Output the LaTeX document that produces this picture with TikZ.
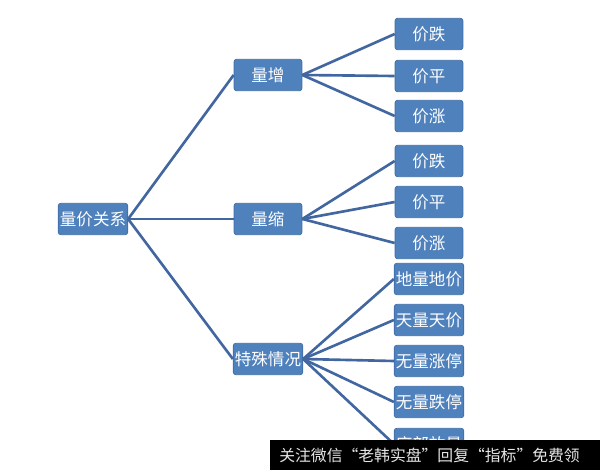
\documentclass[tikz,border=0pt]{standalone}
\usepackage{fontspec}
\newfontfamily\cjk{Noto Sans CJK SC}
\definecolor{boxblue}{RGB}{79,129,189}
\definecolor{boxedge}{RGB}{62,108,166}
\definecolor{linkblue}{RGB}{66,103,160}
\tikzset{
  box/.style={draw=boxedge, fill=boxblue, rounded corners=1.5pt, align=center, minimum width=1.36cm, minimum height=0.63cm, inner sep=1pt, text=white, font=\cjk\fontsize{9.4}{11}\selectfont},
  link/.style={draw=linkblue, line width=1.5pt},
}

\begin{document}
\begin{tikzpicture}[x=0.02cm, y=-0.02cm]
    \useasboundingbox (0,0) rectangle (600,470);
    \node[box] (root) at (93,219) {量价关系};
    \node[box] (up) at (268,75) {量增};
    \node[box] (down) at (268,219) {量缩};
    \node[box] (special) at (268,359) {特殊情况};
    \node[box] (upfall) at (429,34) {价跌};
    \node[box] (upflat) at (429,76) {价平};
    \node[box] (uprise) at (429,116) {价涨};
    \node[box] (downfall) at (429,161) {价跌};
    \node[box] (downflat) at (429,202) {价平};
    \node[box] (downrise) at (429,243) {价涨};
    \node[box] (lowlow) at (429,279) {地量地价};
    \node[box] (highhigh) at (429,320) {天量天价};
    \node[box] (limitup) at (429,361) {无量涨停};
    \node[box] (limitdown) at (429,402) {无量跌停};
    \node[box] (bottomvol) at (429,444) {底部放量};
    \draw[link] (root.east) -- (up.west);
    \draw[link] (root.east) -- (down.west);
    \draw[link] (root.east) -- (special.west);
    \draw[link] (up.east) -- (upfall.west);
    \draw[link] (up.east) -- (upflat.west);
    \draw[link] (up.east) -- (uprise.west);
    \draw[link] (down.east) -- (downfall.west);
    \draw[link] (down.east) -- (downflat.west);
    \draw[link] (down.east) -- (downrise.west);
    \draw[link] (special.east) -- (lowlow.west);
    \draw[link] (special.east) -- (highhigh.west);
    \draw[link] (special.east) -- (limitup.west);
    \draw[link] (special.east) -- (limitdown.west);
    \draw[link] (special.east) -- (bottomvol.west);
    % watermark bar
    \fill[black] (270,440) rectangle (600,470);
    \node[anchor=west, text=black!10, inner sep=0pt, font=\cjk\fontsize{9}{11}\selectfont] (banner) at (279,455) {关注微信“老韩实盘”回复“指标”免费领};
  \end{tikzpicture}
\end{document}
